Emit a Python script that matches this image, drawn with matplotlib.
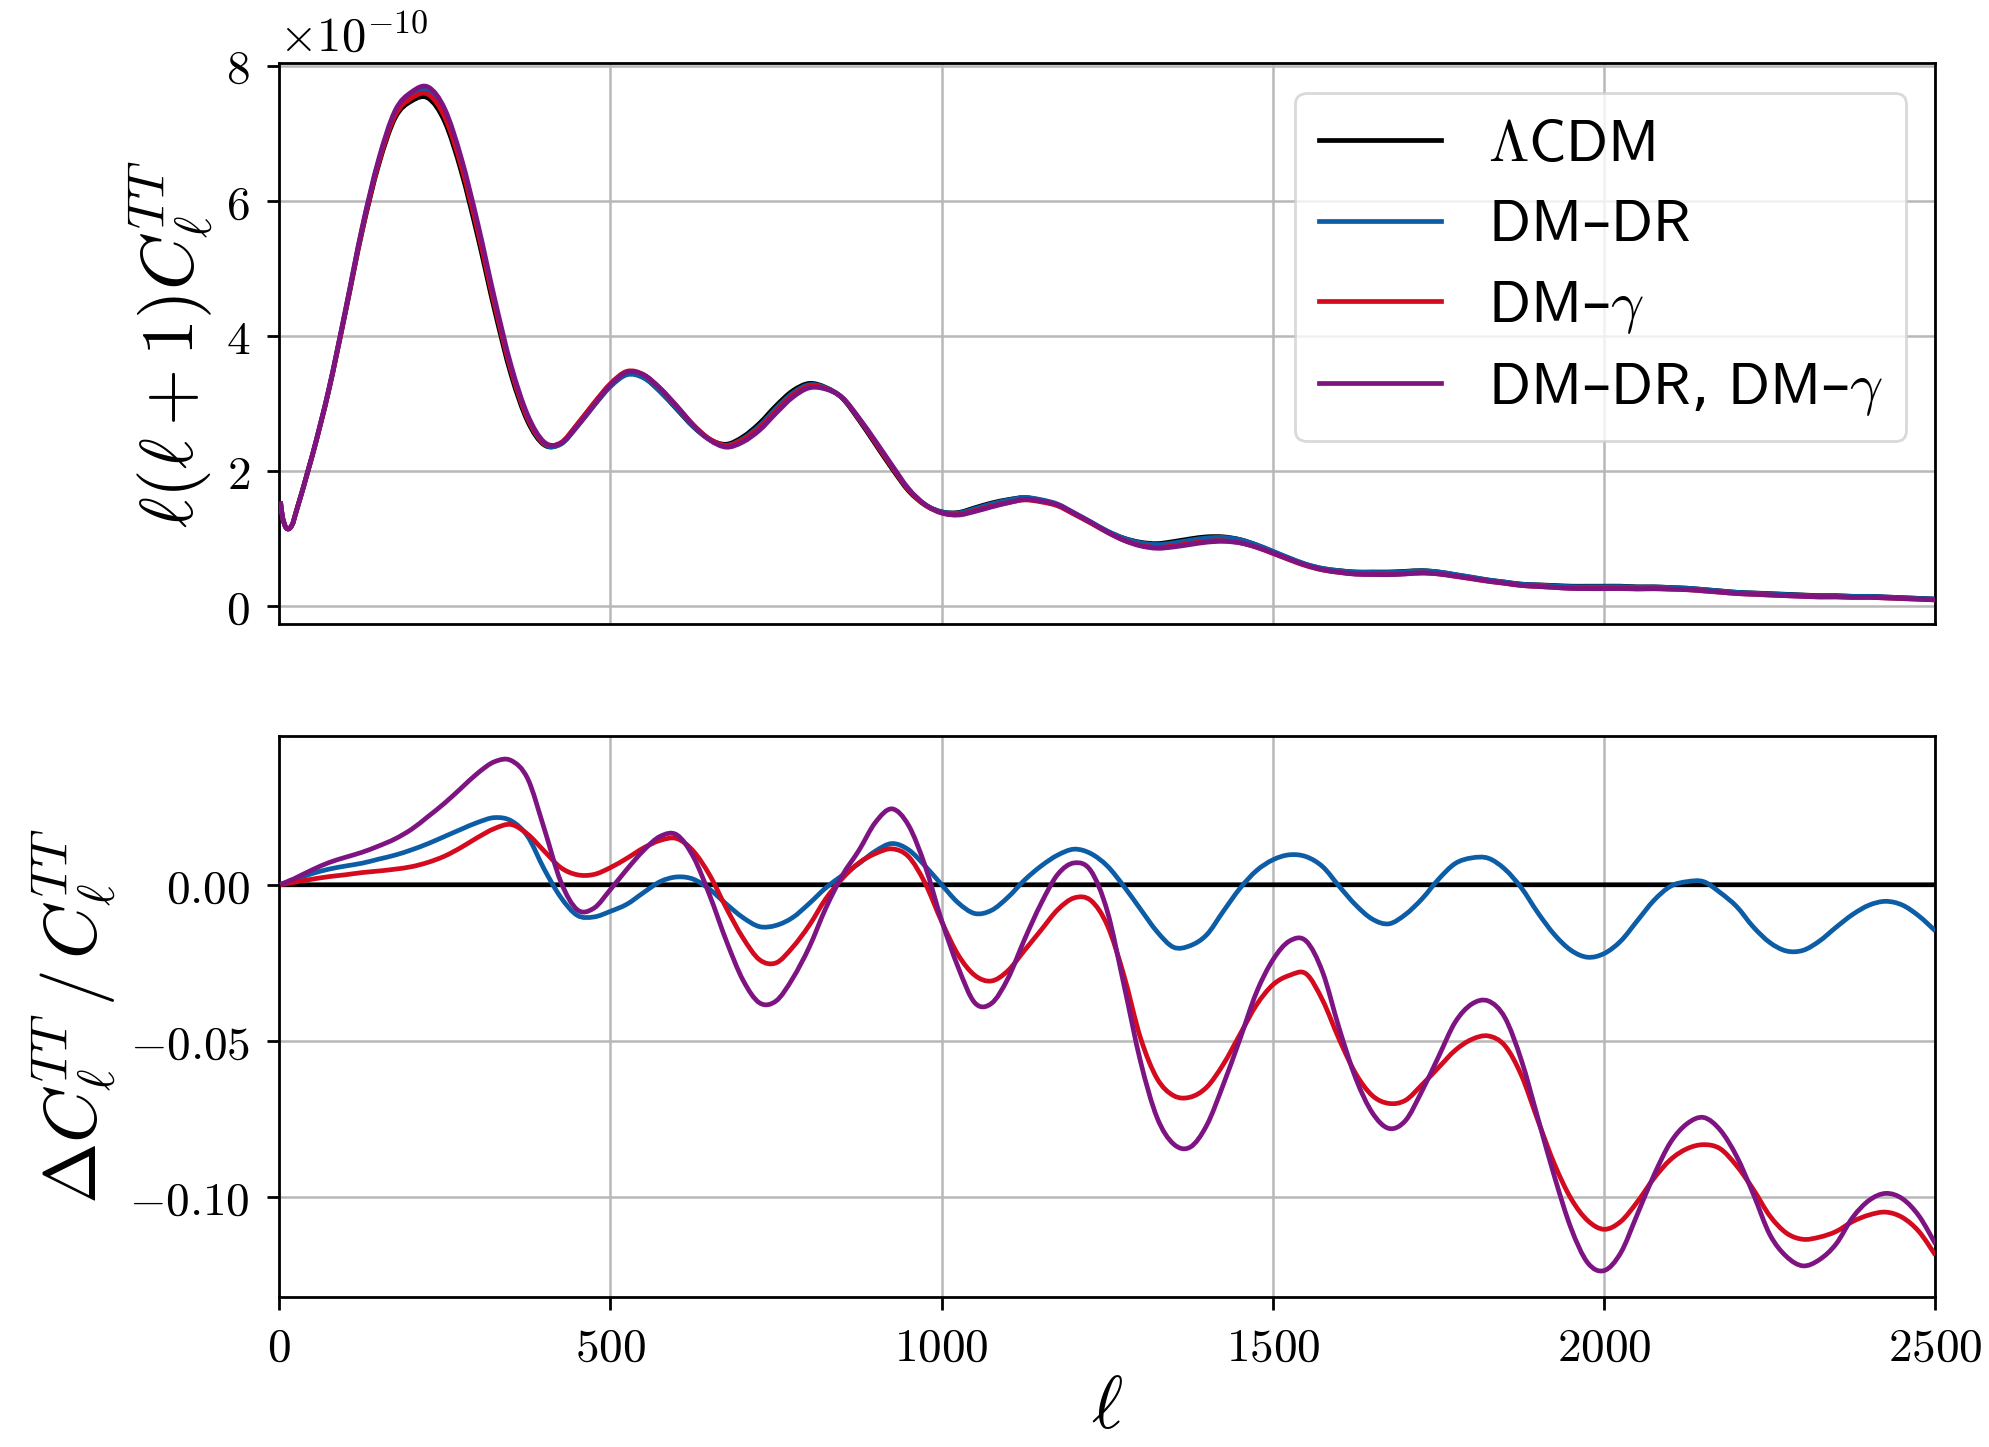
import numpy as np
import matplotlib
matplotlib.use("Agg")
import matplotlib.pyplot as plt
from matplotlib.ticker import FuncFormatter, MultipleLocator
from matplotlib.path import Path
from matplotlib.patches import PathPatch
from matplotlib.lines import Line2D

plt.rcParams["mathtext.fontset"] = "cm"

# Multipoles at which the spectra are tabulated
ell = np.concatenate([[2, 5, 10, 15, 20], np.arange(25, 2501, 25)])

# LambdaCDM temperature spectrum l(l+1)C_l^TT, in units of 1e-10
cl_lcdm = np.array([
    1.55, 1.32, 1.17, 1.15, 1.22,
    1.38, 2.23, 3.20, 4.35, 5.54, 6.53, 7.23, 7.48, 7.52, 7.17,
    6.43, 5.46, 4.39, 3.43, 2.74, 2.39, 2.41, 2.69, 3.00, 3.28,
    3.45, 3.39, 3.18, 2.92, 2.66, 2.47, 2.40, 2.51, 2.71, 2.97,
    3.19, 3.30, 3.24, 3.08, 2.76, 2.40, 2.04, 1.71, 1.50, 1.40,
    1.39, 1.46, 1.53, 1.58, 1.61, 1.57, 1.50, 1.37, 1.24, 1.11,
    1.01, 0.95, 0.93, 0.96, 1.00, 1.03, 1.03, 0.99, 0.91, 0.81,
    0.71, 0.62, 0.56, 0.53, 0.51, 0.51, 0.51, 0.52, 0.53, 0.51,
    0.47, 0.43, 0.39, 0.36, 0.33, 0.32, 0.31, 0.30, 0.30, 0.30,
    0.30, 0.29, 0.29, 0.28, 0.27, 0.25, 0.23, 0.21, 0.20, 0.19,
    0.18, 0.17, 0.16, 0.16, 0.15, 0.15, 0.14, 0.13, 0.12, 0.11,
])

# Fractional deviation Delta C_l / C_l relative to LambdaCDM
frac_dm_dr = np.array([
    0.0, 0.0003, 0.0006, 0.0010, 0.0014,
    0.0018, 0.0036, 0.0050, 0.0060, 0.0069, 0.0082, 0.0095, 0.0112, 0.0132, 0.0155,
    0.0178, 0.0200, 0.0215, 0.0205, 0.0155, 0.0050, -0.0040, -0.0098, -0.0103, -0.0085,
    -0.0062, -0.0025, 0.0010, 0.0025, 0.0018, -0.0015, -0.0062, -0.0105, -0.0134, -0.0130,
    -0.0105, -0.0060, -0.0010, 0.0030, 0.0068, 0.0108, 0.0132, 0.0112, 0.0060, 0.0000,
    -0.0058, -0.0092, -0.0082, -0.0040, 0.0015, 0.0060, 0.0095, 0.0114, 0.0100, 0.0060,
    -0.0005, -0.0078, -0.0150, -0.0200, -0.0195, -0.0160, -0.0085, -0.0012, 0.0045, 0.0080,
    0.0096, 0.0090, 0.0058, -0.0005, -0.0065, -0.0110, -0.0125, -0.0095, -0.0045, 0.0018,
    0.0068, 0.0086, 0.0085, 0.0050, -0.0010, -0.0090, -0.0160, -0.0210, -0.0232, -0.0220,
    -0.0180, -0.0115, -0.0050, -0.0005, 0.0010, 0.0010, -0.0025, -0.0070, -0.0135, -0.0185,
    -0.0212, -0.0210, -0.0180, -0.0136, -0.0095, -0.0065, -0.0053, -0.0065, -0.0100, -0.0148,
])

frac_dm_gamma = np.array([
    0.0, 0.0001, 0.0003, 0.0005, 0.0007,
    0.0009, 0.0018, 0.0026, 0.0032, 0.0039, 0.0044, 0.0050, 0.0058, 0.0072, 0.0092,
    0.0120, 0.0152, 0.0180, 0.0193, 0.0162, 0.0108, 0.0055, 0.0032, 0.0033, 0.0055,
    0.0085, 0.0118, 0.0142, 0.0148, 0.0108, 0.0030, -0.0075, -0.0170, -0.0240, -0.0250,
    -0.0200, -0.0130, -0.0045, 0.0020, 0.0070, 0.0100, 0.0115, 0.0090, 0.0005, -0.0118,
    -0.0225, -0.0290, -0.0308, -0.0275, -0.0210, -0.0145, -0.0080, -0.0042, -0.0050, -0.0130,
    -0.0290, -0.0490, -0.0620, -0.0675, -0.0680, -0.0648, -0.0575, -0.0480, -0.0385, -0.0320,
    -0.0290, -0.0285, -0.0370, -0.0495, -0.0605, -0.0675, -0.0700, -0.0690, -0.0640, -0.0585,
    -0.0530, -0.0495, -0.0484, -0.0515, -0.0610, -0.0755, -0.0895, -0.1005, -0.1075, -0.1103,
    -0.1078, -0.1015, -0.0940, -0.0880, -0.0845, -0.0832, -0.0845, -0.0900, -0.0975, -0.1060,
    -0.1115, -0.1135, -0.1128, -0.1110, -0.1078, -0.1057, -0.1048, -0.1065, -0.1110, -0.1186,
])

frac_both = np.array([
    0.0, 0.0004, 0.0008, 0.0013, 0.0017,
    0.0022, 0.0048, 0.0071, 0.0088, 0.0104, 0.0124, 0.0147, 0.0178, 0.0219, 0.0262,
    0.0310, 0.0358, 0.0394, 0.0398, 0.0340, 0.0180, 0.0010, -0.0080, -0.0075, -0.0015,
    0.0050, 0.0110, 0.0155, 0.0160, 0.0090, -0.0035, -0.0180, -0.0305, -0.0378, -0.0372,
    -0.0300, -0.0200, -0.0075, 0.0030, 0.0110, 0.0200, 0.0243, 0.0190, 0.0060, -0.0115,
    -0.0265, -0.0378, -0.0380, -0.0300, -0.0175, -0.0060, 0.0033, 0.0070, 0.0045, -0.0085,
    -0.0320, -0.0565, -0.0745, -0.0830, -0.0840, -0.0770, -0.0640, -0.0495, -0.0345, -0.0240,
    -0.0180, -0.0180, -0.0280, -0.0460, -0.0620, -0.0730, -0.0780, -0.0755, -0.0660, -0.0550,
    -0.0440, -0.0382, -0.0372, -0.0425, -0.0562, -0.0748, -0.0935, -0.1100, -0.1210, -0.1235,
    -0.1178, -0.1055, -0.0930, -0.0825, -0.0765, -0.0745, -0.0785, -0.0870, -0.0990, -0.1120,
    -0.1190, -0.1220, -0.1200, -0.1150, -0.1065, -0.1010, -0.0988, -0.1005, -0.1060, -0.1150,
])

# Model names: sans-serif letters, math-italic gamma, text en dashes
labels = [
    r"$\Lambda\mathsf{CDM}$",
    r"$\mathsf{DM}$–$\mathsf{DR}$",
    r"$\mathsf{DM}$–$\gamma$",
    r"$\mathsf{DM}$–$\mathsf{DR}$, $\mathsf{DM}$–$\gamma$",
]
colors = ["black", "#0C5DA5", "#D40A1E", "#7D1482"]

fracs = [(cl_lcdm - cl_lcdm) / cl_lcdm, frac_dm_dr, frac_dm_gamma, frac_both]
spectra = [cl_lcdm * (1.0 + f) for f in fracs]


def smooth_curve(x, y):
    """Cubic Bezier path passing through every (x, y) sample (Catmull-Rom tangents)."""
    pts = np.column_stack([x, y]).astype(float)
    ext = np.vstack([pts[0], pts, pts[-1]])
    verts = [pts[0]]
    codes = [Path.MOVETO]
    for i in range(1, len(ext) - 2):
        p0, p1, p2, p3 = ext[i - 1], ext[i], ext[i + 1], ext[i + 2]
        verts += [p1 + (p2 - p0) / 6.0, p2 - (p3 - p1) / 6.0, p2]
        codes += [Path.CURVE4] * 3
    return Path(verts, codes)


fig = plt.figure(figsize=(9.95, 7.235), dpi=200)
ax1 = fig.add_axes([0.1403, 0.5685, 0.8323, 0.3877])
ax2 = fig.add_axes([0.1403, 0.1036, 0.8323, 0.3877])

lw = 1.7
for spec, col in zip(spectra, colors):
    ax1.add_patch(PathPatch(smooth_curve(ell, spec), fill=False, edgecolor=col,
                            lw=lw, joinstyle="round", capstyle="butt", zorder=3))
for frac, col in zip(fracs, colors):
    ax2.add_patch(PathPatch(smooth_curve(ell, frac), fill=False, edgecolor=col,
                            lw=lw, joinstyle="round", capstyle="butt", zorder=3))

tick_fs = 17
math_fmt_int = FuncFormatter(lambda v, p: r"$%d$" % round(v))
math_fmt_2 = FuncFormatter(lambda v, p: r"$%.2f$" % v if abs(v) > 1e-9 else r"$0.00$")

for ax in (ax1, ax2):
    ax.set_xlim(0, 2500)
    ax.xaxis.set_major_locator(MultipleLocator(500))
    ax.grid(True, color="#b8b8b8", lw=0.9)
    ax.set_axisbelow(True)
    ax.tick_params(labelsize=tick_fs, width=1.0, length=4.5, pad=6)
    for s in ax.spines.values():
        s.set_linewidth(1.0)

ax1.set_ylim(-0.265, 8.035)
ax1.yaxis.set_major_locator(MultipleLocator(2))
ax1.yaxis.set_major_formatter(math_fmt_int)
ax1.tick_params(axis="x", length=0, labelbottom=False)
ax1.text(0.0, 1.003, r"$\times10^{-10}$", transform=ax1.transAxes,
         ha="left", va="bottom", fontsize=17.5)
ax1.set_ylabel(r"$\ell(\ell+1)C_\ell^{TT}$", fontsize=26.5, labelpad=4)

ax2.set_ylim(-0.132, 0.0476)
ax2.yaxis.set_major_locator(MultipleLocator(0.05))
ax2.yaxis.set_major_formatter(math_fmt_2)
ax2.xaxis.set_major_formatter(math_fmt_int)
ax2.set_ylabel(r"$\Delta C_\ell^{TT}\,/\,C_\ell^{TT}$", fontsize=26.5, labelpad=4)
ax2.set_xlabel(r"$\ell$", fontsize=27, labelpad=0)

handles = [Line2D([], [], color=c, lw=lw) for c in colors]
leg = ax1.legend(handles, labels, loc="upper right", frameon=True, fancybox=True,
                 handlelength=2.1, borderaxespad=0.5, labelspacing=0.4,
                 prop={"family": "DejaVu Sans", "size": 21})
leg.get_frame().set_edgecolor("#d0d0d0")

fig.savefig("out.png", dpi=200)
